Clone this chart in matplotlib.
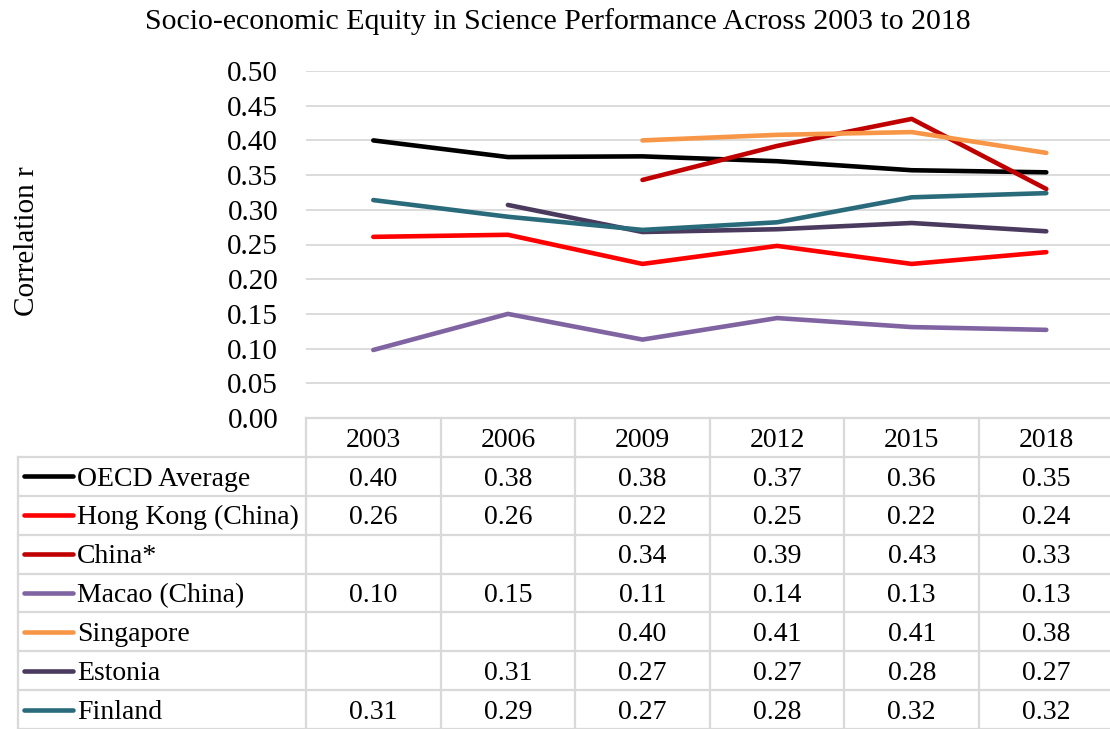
import numpy as np
import matplotlib
matplotlib.use("Agg")
import matplotlib.pyplot as plt

plt.rcParams['font.family'] = ['Liberation Serif', 'DejaVu Serif']

years = ["2003", "2006", "2009", "2012", "2015", "2018"]
series_names = ["OECD Average", "Hong Kong (China)", "China*", "Macao (China)",
                "Singapore", "Estonia", "Finland"]
oecd = [0.400, 0.376, 0.377, 0.370, 0.357, 0.354]
hong_kong = [0.261, 0.264, 0.222, 0.248, 0.222, 0.239]
china = [None, None, 0.343, 0.392, 0.431, 0.330]
macao = [0.098, 0.150, 0.113, 0.144, 0.131, 0.127]
singapore = [None, None, 0.400, 0.408, 0.412, 0.382]
estonia = [None, 0.307, 0.268, 0.272, 0.281, 0.269]
finland = [0.314, 0.290, 0.271, 0.282, 0.318, 0.324]
colors = ["#000000", "#FF0000", "#C00000", "#8064A2", "#F79646", "#4A3A5E", "#2A6B7B"]
yticks = [0.00, 0.05, 0.10, 0.15, 0.20, 0.25, 0.30, 0.35, 0.40, 0.45, 0.50]

all_series = [oecd, hong_kong, china, macao, singapore, estonia, finland]

W, H = 1110, 729
fig = plt.figure(figsize=(W / 100, H / 100), dpi=100)

# geometry (pixels)
plot_left = 306.0
cat_w = 134.6
plot_right = plot_left + cat_w * len(years)
y_top, y_bot = 71.0, 418.0
tab_left = 18.0
grid_col = "#D9D9D9"
fs = 20
fs_tick = 21
txt_off = 0.57  # vertical position of text inside a table row

ax = fig.add_axes([plot_left / W, 1 - y_bot / H, (plot_right - plot_left) / W, (y_bot - y_top) / H])
x = np.arange(len(years))
for vals, c in zip(all_series, colors):
    v = np.array([np.nan if a is None else a for a in vals], dtype=float)
    ax.plot(x, v, color=c, lw=3.3, solid_capstyle='round', solid_joinstyle='round', zorder=3)
ax.set_xlim(-0.5, len(years) - 0.5)
ax.set_ylim(0, 0.5)
ax.set_yticks(yticks)
ax.set_yticklabels([f"{t:.2f}" for t in yticks], fontsize=fs_tick)
ax.set_xticks([])
ax.tick_params(axis='y', length=0, pad=20)
ax.grid(axis='y', color=grid_col, lw=1.3)
for s in ax.spines.values():
    s.set_visible(False)
ax.set_axisbelow(True)

fig.text(27 / W, 1 - 241 / H, "Correlation r", rotation=90, ha='center', va='center', fontsize=21)
fig.text(558 / W, 1 - 22 / H, "Socio-economic Equity in Science Performance Across 2003 to 2018",
         ha='center', va='center', fontsize=21.5)

# data table
xl = -0.5 - (plot_left - tab_left) / cat_w
tax = fig.add_axes([tab_left / W, 0, (plot_right - tab_left) / W, (H - y_bot) / H])
nrows = len(series_names) + 1
tax.set_xlim(xl, len(years) - 0.5)
tax.set_ylim(nrows, 0)
tax.axis('off')
lk = dict(color=grid_col, lw=1.6, clip_on=False)
tax.plot([-0.5, len(years) - 0.5], [0, 0], **lk)
for r in range(1, nrows + 1):
    tax.plot([xl, len(years) - 0.5], [r, r], **lk)
for cx in np.arange(-0.5, len(years) + 0.5, 1.0):
    tax.plot([cx, cx], [0, nrows], **lk)
tax.plot([xl, xl], [1, nrows], **lk)

for i, yr in enumerate(years):
    tax.text(i, txt_off, yr, ha='center', va='center', fontsize=fs)
px = lambda p: xl + (p - tab_left) / cat_w
for r, (name, vals, c) in enumerate(zip(series_names, all_series, colors), start=1):
    tax.plot([px(24), px(73)], [r + 0.5, r + 0.5], color=c, lw=3.3, solid_capstyle='round')
    tax.text(px(77), r + txt_off, name, ha='left', va='center', fontsize=fs)
    for i, v in enumerate(vals):
        if v is not None:
            tax.text(i, r + txt_off, f"{v:.2f}", ha='center', va='center', fontsize=fs)

fig.savefig("out.png", dpi=100)
